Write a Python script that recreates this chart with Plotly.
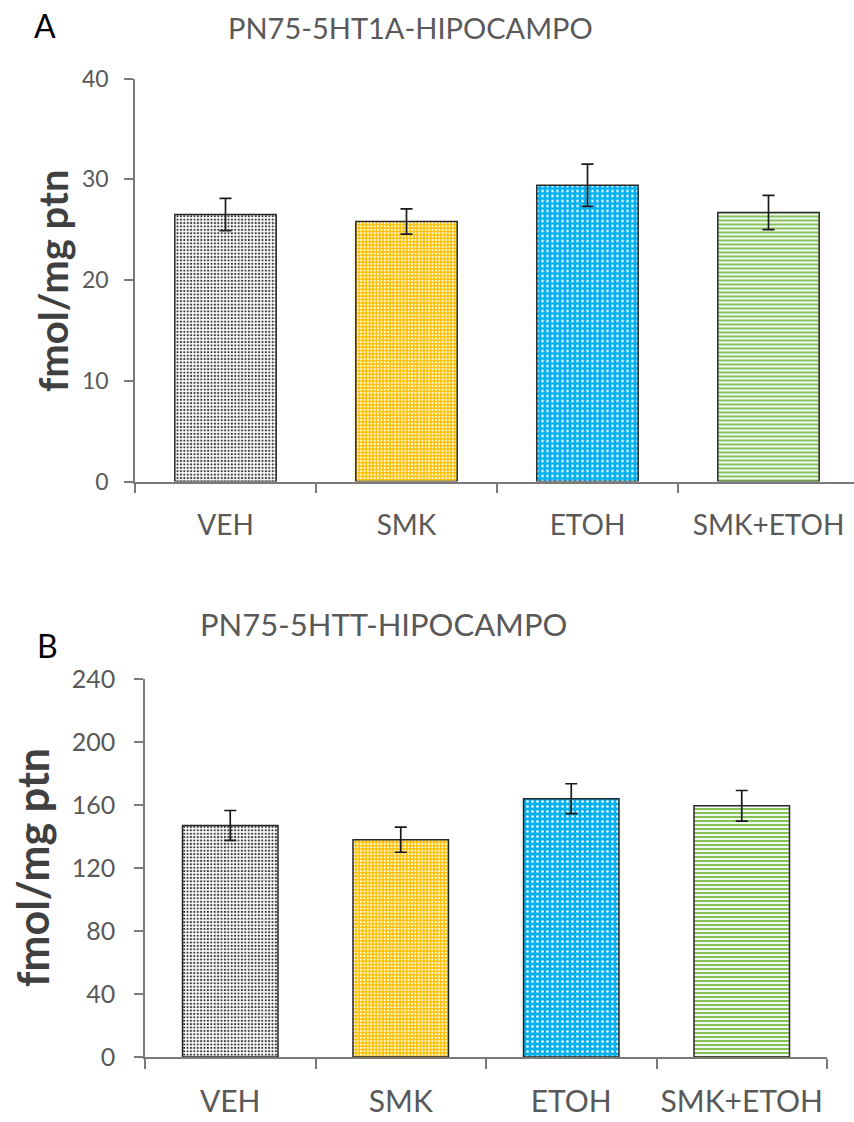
import plotly.graph_objects as go

# Groups and receptor binding values (mean ± SEM)
groups = ["VEH", "SMK", "ETOH", "SMK+ETOH"]

ht1a_mean = [26.5, 25.8, 29.4, 26.7]
ht1a_sem = [1.6, 1.25, 2.1, 1.7]

htt_mean = [147.0, 138.0, 164.0, 159.5]
htt_sem = [9.5, 8.0, 9.5, 9.7]

# Fill style per group: (background, pattern colour, shape, size, solidity)
fills = [
    ("white", "#3a3a3a", ".", 3.4, 0.35),
    ("#FFC000", "white", ".", 3.4, 0.3),
    ("#00B0F0", "white", ".", 5, 0.22),
    ("white", "#86C25C", "-", 4, 0.55),
]

W, H = 854, 1122
GREY = "#595959"
FONT = "Lato"


def px(x):
    return x / W


def py(y):
    return 1 - y / H


fig = go.Figure()

for axis_id, means, sems in (("", ht1a_mean, ht1a_sem), ("2", htt_mean, htt_sem)):
    for g, m, s, (bg, fg, shape, size, sol) in zip(groups, means, sems, fills):
        fig.add_trace(go.Bar(
            x=[g], y=[m],
            xaxis="x" + axis_id, yaxis="y" + axis_id,
            marker=dict(
                color=bg,
                line=dict(color="#262626", width=1.5),
                pattern=dict(shape=shape, fgcolor=fg, bgcolor=bg,
                             size=size, solidity=sol, fillmode="replace"),
            ),
            error_y=dict(type="data", array=[s], visible=True,
                         color="#1a1a1a", thickness=1.7, width=6),
            showlegend=False,
        ))

axis_common = dict(
    showline=True, linecolor="#7a7a7a", linewidth=1.5,
    ticks="outside", tickcolor="#7a7a7a", tickwidth=1.5,
    showgrid=False, zeroline=False, fixedrange=True, automargin=False,
)


def label(text, x, y, size, color=GREY, angle=0, bold=False):
    return dict(text=text, x=px(x), y=py(y), xref="paper", yref="paper",
                xanchor="center", yanchor="middle", showarrow=False,
                textangle=angle,
                font=dict(size=size, color=color, family=FONT,
                          weight="bold" if bold else "normal"))


fig.update_layout(
    width=W, height=H,
    margin=dict(l=0, r=0, t=0, b=0),
    paper_bgcolor="white", plot_bgcolor="white",
    bargap=0.44,
    font=dict(family=FONT, color=GREY),
    xaxis=dict(
        axis_common, domain=[px(135), 1.0], range=[-0.5, -0.5 + 719 / 181],
        type="category", categoryorder="array", categoryarray=groups,
        tickson="boundaries", ticklen=10, ticklabelstandoff=18, tickangle=0,
        tickfont=dict(size=28, color=GREY), anchor="y",
    ),
    yaxis=dict(
        axis_common, domain=[py(481.5), py(78.5)], range=[0, 40],
        tickvals=[0, 10, 20, 30, 40], ticklen=9, ticklabelstandoff=11,
        tickfont=dict(size=23, color=GREY), anchor="x",
    ),
    xaxis2=dict(
        axis_common, domain=[px(145), px(827)], range=[-0.5, 3.5],
        type="category", categoryorder="array", categoryarray=groups,
        tickson="boundaries", ticklen=10, ticklabelstandoff=17, tickangle=0,
        tickfont=dict(size=30, color=GREY), anchor="y2",
    ),
    yaxis2=dict(
        axis_common, domain=[py(1057), py(679)], range=[0, 240],
        tickvals=[0, 40, 80, 120, 160, 200, 240], ticklen=9,
        ticklabelstandoff=14, tickfont=dict(size=25, color=GREY), anchor="x2",
    ),
    annotations=[
        label("A", 45, 25, 32, color="black"),
        label("PN75-5HT1A-HIPOCAMPO", 410, 28, 29),
        label("fmol/mg ptn", 53, 281, 40, color="#404040", angle=-90, bold=True),
        label("B", 47, 645, 32, color="black"),
        label("PN75-5HTT-HIPOCAMPO", 383, 624, 31),
        label("fmol/mg ptn", 33, 868, 43, color="#404040", angle=-90, bold=True),
    ],
)

fig.write_html("out.html")
